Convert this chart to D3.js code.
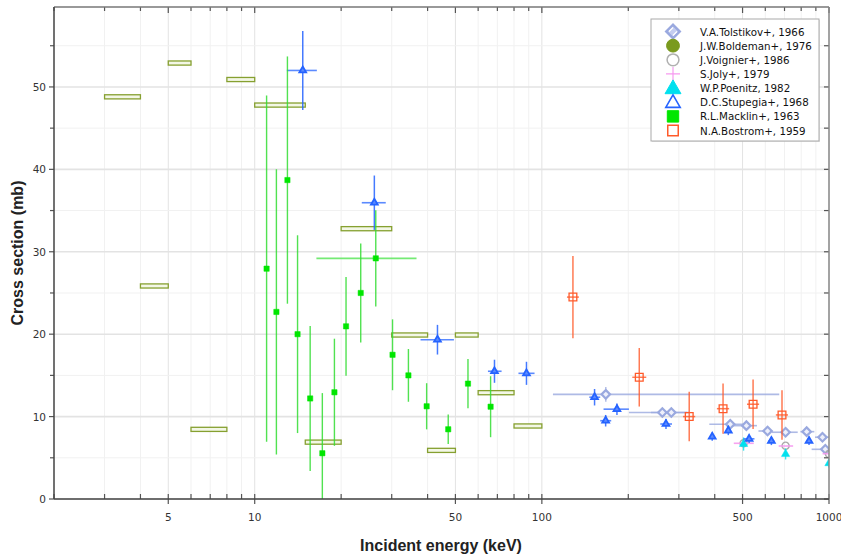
<!DOCTYPE html>
<html>
<head>
<meta charset="utf-8">
<script src="https://cdn.jsdelivr.net/npm/d3@7"></script>
<style>
  body { margin: 0; background: #fff; }
</style>
</head>
<body>
<svg id="chart" width="841" height="557"></svg>
<script>
// ---- data ----
// V.A.Tolstikov+, 1966
const tolE   = [167, 262.8, 282.4, 453, 515.6, 611, 706, 836, 949, 971]
const tolV   = [12.7, 10.5, 10.5, 9.07, 8.9, 8.25, 8.1, 8.17, 7.5, 6.03]
const tolDy  = [0.9, 0.5, 0.5, 0.4, 0.4, 0.4, 0.4, 0.4, 0.4, 0.4]
const tolLo  = [109.3, 201, 240, 383, 440, 568, 633, 795, 894, 870]
const tolHi  = [671, 320, 326, 520, 561, 633, 778, 889, 999, 1000]

// J.W.Boldeman+, 1976 (energy-bin averages)
const bolLo  = [3, 4, 5, 6, 8, 10, 15, 20, 30, 40, 50, 60, 80]
const bolHi  = [4, 5, 6, 8, 10, 15, 20, 30, 40, 50, 60, 80, 100]
const bolV   = [48.8, 25.85, 52.9, 8.45, 50.9, 47.8, 6.9, 32.8, 19.9, 5.9, 19.9, 12.9, 8.86]
const bolDy  = [0.25, 0.25, 0.25, 0.25, 0.25, 0.25, 0.25, 0.25, 0.25, 0.25, 0.25, 0.25, 0.25]

// J.Voignier+, 1986
const voiE   = [504, 706, 1000]
const voiV   = [6.76, 6.47, 5.45]

// S.Joly+, 1979
const jolE   = [504, 706, 1000]
const jolV   = [6.76, 6.43, 5.5]
const jolLo  = [466, 668, 950]
const jolHi  = [547, 750, 1050]

// W.P.Poenitz, 1982
const poeE   = [504, 706, 1000]
const poeV   = [6.67, 5.46, 4.33]
const poeDy  = [0.8, 0.66, 0.5]

// D.C.Stupegia+, 1968
const stuE   = [14.7, 26.1, 43.3, 68.4, 88.4, 152.6, 166.8, 182.6, 270.6, 392, 446, 527, 630, 852]
const stuV   = [52.0, 35.95, 19.33, 15.5, 15.25, 12.35, 9.5, 10.9, 9.1, 7.56, 8.3, 7.3, 7.04, 7.04]
const stuDy  = [4.8, 3.3, 1.8, 1.4, 1.4, 1.0, 0.7, 0.7, 0.6, 0.5, 0.55, 0.5, 0.5, 0.5]
const stuLo  = [12.94, 23.6, 37.8, 64.9, 82.9, 146.3, 159.7, 164, 258.5, 385, 438, 504, 615, 835]
const stuHi  = [16.46, 28.6, 49.4, 72.4, 94.3, 159.7, 174.4, 201, 284, 400, 455, 550, 645, 870]

// R.L.Macklin+, 1963
const macE   = [11.0, 11.9, 13.0, 14.1, 15.6, 17.2, 18.95, 20.8, 23.4, 26.4, 30.2, 34.3, 39.7, 47.2, 55.3, 66.3]
const macV   = [27.95, 22.7, 38.7, 20.0, 12.2, 5.55, 12.95, 20.95, 25.0, 29.2, 17.5, 15.0, 11.25, 8.46, 14.0, 11.2]
const macDy  = [21, 17.3, 15, 12, 8.8, 7.3, 6.5, 6.0, 6.0, 5.85, 4.3, 3.2, 2.8, 1.8, 3.0, 3.7]
const macLo  = [11.0, 11.9, 13.0, 14.1, 15.6, 17.2, 18.95, 20.8, 23.4, 16.4, 30.2, 34.3, 39.7, 47.2, 55.3, 66.3]
const macHi  = [11.0, 11.9, 13.0, 14.1, 15.6, 17.2, 18.95, 20.8, 23.4, 36.6, 30.2, 34.3, 39.7, 47.2, 55.3, 66.3]

// N.A.Bostrom+, 1959
const bosE   = [128.3, 218.4, 326, 427.6, 544, 686]
const bosV   = [24.5, 14.77, 10.0, 10.96, 11.5, 10.2]
const bosDy  = [5.0, 3.55, 3.0, 3.05, 3.0, 3.0]
const bosLo  = [122.3, 206.5, 310, 407, 518, 653]
const bosHi  = [134.6, 231, 342, 449, 571, 720]

const xTickLabels = [5, 10, 50, 100, 500, 1000]
const yTickLabels = [0, 10, 20, 30, 40, 50]

const legendNames = ['V.A.Tolstikov+, 1966', 'J.W.Boldeman+, 1976', 'J.Voignier+, 1986',
  'S.Joly+, 1979', 'W.P.Poenitz, 1982', 'D.C.Stupegia+, 1968', 'R.L.Macklin+, 1963', 'N.A.Bostrom+, 1959']

// ---- layout ----
const L = 54, R = 829, T = 7, B = 499
const svg = d3.select('#chart')

const x = d3.scaleLog().domain([2, 1000]).range([L, R])
const y = d3.scaleLinear().domain([0, 59.7]).range([B, T])

const col = {
  tol: '#9aa9df', bol: '#86a030', voi: '#aaaaaa', jol: '#f79af0',
  poe: '#00e0ee', stu: '#2563ff', mac: '#11dd11', bos: '#ff5a2a'
}

function zip(a) { return a[0].map((_, i) => a.map(arr => arr[i])) }

// minor x ticks: every integer multiple inside each decade
const xMinor = []
for (let d = 1; d <= 100; d *= 10)
  for (let k = 1; k <= 9; k++) { const v = k * d; if (v >= 2 && v <= 1000) xMinor.push(v) }
xMinor.push(1000)
const yMinor = d3.range(0, 60, 5)

// grid
const grid = svg.append('g')
grid.selectAll('.vg').data(xMinor).enter().append('line')
    .attr('x1', d => x(d)).attr('x2', d => x(d)).attr('y1', T).attr('y2', B)
    .attr('stroke', d => xTickLabels.includes(d) ? '#e3e3e3' : '#f1f1f1')
    .attr('stroke-width', 1)
grid.selectAll('.hg').data(yMinor).enter().append('line')
    .attr('x1', L).attr('x2', R).attr('y1', d => y(d)).attr('y2', d => y(d))
    .attr('stroke', d => d % 10 === 0 ? '#e3e3e3' : '#f1f1f1')
    .attr('stroke-width', d => d % 10 === 0 ? 1.6 : 1)

// clip for data
svg.append('clipPath').attr('id', 'clip')
  .append('rect').attr('x', L).attr('y', T).attr('width', R - L).attr('height', B - T)
const plot = svg.append('g').attr('clip-path', 'url(#clip)')

function vbars(g, rows, color, w, op) {
  g.selectAll(null).data(rows).enter().append('line')
    .attr('x1', d => x(d[0])).attr('x2', d => x(d[0]))
    .attr('y1', d => y(d[1] - d[2])).attr('y2', d => y(d[1] + d[2]))
    .attr('stroke', color).attr('stroke-width', w).attr('opacity', op)
}
function hbars(g, rows, color, w, op) {
  g.selectAll(null).data(rows.filter(d => d[3] !== d[4])).enter().append('line')
    .attr('x1', d => x(d[3])).attr('x2', d => x(d[4]))
    .attr('y1', d => y(d[1])).attr('y2', d => y(d[1]))
    .attr('stroke', color).attr('stroke-width', w).attr('opacity', op)
}
function marks(g, rows, type, size, fill, stroke, sw, rot) {
  g.selectAll(null).data(rows).enter().append('path')
    .attr('d', d3.symbol().type(type).size(size))
    .attr('transform', d => `translate(${x(d[0])},${y(d[1])}) rotate(${rot || 0})`)
    .attr('fill', fill).attr('stroke', stroke).attr('stroke-width', sw)
}

// Tolstikov
const tolRows = zip([tolE, tolV, tolDy, tolLo, tolHi])
const gTol = plot.append('g')
hbars(gTol, tolRows, col.tol, 1.6, 0.8)
vbars(gTol, tolRows, col.tol, 1.4, 0.8)
marks(gTol, tolRows, d3.symbolSquare, 36, '#eef0fb', col.tol, 2.2, 45)

// Boldeman boxes
plot.append('g').selectAll('rect').data(zip([bolLo, bolHi, bolV, bolDy])).enter().append('rect')
    .attr('x', d => x(d[0])).attr('width', d => x(d[1]) - x(d[0]))
    .attr('y', d => y(d[2] + d[3])).attr('height', d => y(d[2] - d[3]) - y(d[2] + d[3]))
    .attr('fill', '#f3f7e6').attr('stroke', col.bol).attr('stroke-width', 1.3)

// Voignier
const gVoi = plot.append('g')
marks(gVoi, zip([voiE, voiV]), d3.symbolCircle, 40, 'none', col.voi, 1.4)

// Joly
const jolRows = zip([jolE, jolV, jolV.map(() => 0), jolLo, jolHi])
const gJol = plot.append('g')
hbars(gJol, jolRows, col.jol, 1.6, 0.9)

// Poenitz
const poeRows = zip([poeE, poeV, poeDy])
const gPoe = plot.append('g')
vbars(gPoe, poeRows, col.poe, 1.4, 0.8)
marks(gPoe, poeRows, d3.symbolTriangle, 30, col.poe, col.poe, 0.5)

// Stupegia
const stuRows = zip([stuE, stuV, stuDy, stuLo, stuHi])
const gStu = plot.append('g')
hbars(gStu, stuRows, col.stu, 1.6, 0.75)
vbars(gStu, stuRows, col.stu, 1.5, 0.85)
marks(gStu, stuRows, d3.symbolTriangle, 20, '#5d8bff', col.stu, 1.8)

// Macklin
const macRows = zip([macE, macV, macDy, macLo, macHi])
const gMac = plot.append('g')
hbars(gMac, macRows, '#66e866', 1.6, 0.9)
vbars(gMac, macRows, '#33dd33', 1.4, 0.85)
marks(gMac, macRows, d3.symbolSquare, 28, '#00e600', '#00e600', 0.5)

// Bostrom
const bosRows = zip([bosE, bosV, bosDy, bosLo, bosHi])
const gBos = plot.append('g')
vbars(gBos, bosRows, col.bos, 1.5, 0.8)
hbars(gBos, bosRows, col.bos, 1.5, 0.8)
marks(gBos, bosRows, d3.symbolSquare, 60, 'none', col.bos, 1.3)

// ---- axes and frame ----
const axes = svg.append('g')
// top ticks (inward)
axes.selectAll('.tt').data(xMinor).enter().append('line')
    .attr('x1', d => x(d)).attr('x2', d => x(d)).attr('y1', T)
    .attr('y2', d => T + (xTickLabels.includes(d) ? 6 : 4))
    .attr('stroke', '#555').attr('stroke-width', 1.2)
// bottom ticks
axes.selectAll('.bt').data(xMinor).enter().append('line')
    .attr('x1', d => x(d)).attr('x2', d => x(d))
    .attr('y1', B - 5)
    .attr('y2', d => B + (xTickLabels.includes(d) ? 5 : 0))
    .attr('stroke', '#555').attr('stroke-width', 1.2)
// left ticks (outward) and right ticks (inward)
axes.selectAll('.lt').data(yMinor).enter().append('line')
    .attr('x1', d => L - (d % 10 === 0 ? 5 : 4)).attr('x2', L)
    .attr('y1', d => y(d)).attr('y2', d => y(d))
    .attr('stroke', '#555').attr('stroke-width', 1.2)
axes.selectAll('.rt').data(yMinor).enter().append('line')
    .attr('x1', R - 5).attr('x2', R)
    .attr('y1', d => y(d)).attr('y2', d => y(d))
    .attr('stroke', '#555').attr('stroke-width', 1.2)

axes.append('line').attr('x1', L).attr('x2', R).attr('y1', T).attr('y2', T)
    .attr('stroke', '#777').attr('stroke-width', 1.5)
axes.append('line').attr('x1', R).attr('x2', R).attr('y1', T).attr('y2', B)
    .attr('stroke', '#888').attr('stroke-width', 1.5)
axes.append('line').attr('x1', L).attr('x2', L).attr('y1', T).attr('y2', B)
    .attr('stroke', '#444').attr('stroke-width', 1.5)
axes.append('line').attr('x1', L).attr('x2', R).attr('y1', B).attr('y2', B)
    .attr('stroke', '#444').attr('stroke-width', 1.5)

axes.selectAll('.xl').data(xTickLabels).enter().append('text')
    .attr('x', d => x(d)).attr('y', 521).attr('text-anchor', 'middle')
    .attr('font-family', 'DejaVu Sans').attr('font-size', '10.5px').attr('fill', '#333')
    .text(d => d)
axes.selectAll('.yl').data(yTickLabels).enter().append('text')
    .attr('x', 46).attr('y', d => y(d) + 4).attr('text-anchor', 'end')
    .attr('font-family', 'DejaVu Sans').attr('font-size', '10.5px').attr('fill', '#333')
    .text(d => d)

svg.append('text').attr('x', 441).attr('y', 551).attr('text-anchor', 'middle')
    .attr('font-family', 'Liberation Sans').attr('font-weight', 'bold').attr('font-size', '16px')
    .attr('fill', '#222').text('Incident energy (keV)')
svg.append('text').attr('transform', 'translate(23,253) rotate(-90)').attr('text-anchor', 'middle')
    .attr('font-family', 'Liberation Sans').attr('font-weight', 'bold').attr('font-size', '16px')
    .attr('fill', '#222').text('Cross section (mb)')

// ---- legend ----
const lg = svg.append('g')
lg.append('rect').attr('x', 652).attr('y', 20).attr('width', 168).attr('height', 122)
    .attr('fill', '#ccc').attr('opacity', 0.5)
lg.append('rect').attr('x', 651).attr('y', 19).attr('width', 168).attr('height', 122)
    .attr('fill', '#fff').attr('stroke', '#aaa').attr('stroke-width', 1)

const legendMarks = [
  { type: d3.symbolSquare, size: 90, fill: '#c4cdf0', stroke: col.tol, sw: 2.5, rot: 45 },
  { type: d3.symbolCircle, size: 130, fill: '#7a9a1e', stroke: '#7a9a1e', sw: 1 },
  { type: d3.symbolCircle, size: 110, fill: 'none', stroke: '#b0b0b0', sw: 1.5 },
  { type: d3.symbolCross, size: 0, fill: 'none', stroke: col.jol, sw: 1.2 },
  { type: d3.symbolTriangle, size: 110, fill: col.poe, stroke: col.poe, sw: 1 },
  { type: d3.symbolTriangle, size: 90, fill: 'none', stroke: col.stu, sw: 1.6 },
  { type: d3.symbolSquare, size: 130, fill: '#00e600', stroke: '#00e600', sw: 1 },
  { type: d3.symbolSquare, size: 110, fill: 'none', stroke: col.bos, sw: 1.5 }
]
legendNames.forEach((name, i) => {
  const cy = 31.5 + i * 14.15
  const m = legendMarks[i]
  if (i === 3) {
    lg.append('path').attr('d', `M${673 - 7},${cy}H${673 + 7}M673,${cy - 7}V${cy + 7}`)
      .attr('stroke', m.stroke).attr('stroke-width', m.sw).attr('fill', 'none')
  } else {
    lg.append('path').attr('d', d3.symbol().type(m.type).size(m.size))
      .attr('transform', `translate(673,${cy + (m.type === d3.symbolTriangle ? 1 : 0)}) rotate(${m.rot || 0})`)
      .attr('fill', m.fill).attr('stroke', m.stroke).attr('stroke-width', m.sw)
    if (i === 0) {
      lg.append('path').attr('d', `M${673 - 4},${cy}L673,${cy - 4}M673,${cy + 4}L${673 + 4},${cy}`)
        .attr('stroke', '#fff').attr('stroke-width', 1.2)
    }
  }
  lg.append('text').attr('x', 700).attr('y', cy + 4)
    .attr('font-family', 'DejaVu Sans').attr('font-size', '10.3px').attr('fill', '#111')
    .text(name)
})
</script>
</body>
</html>
